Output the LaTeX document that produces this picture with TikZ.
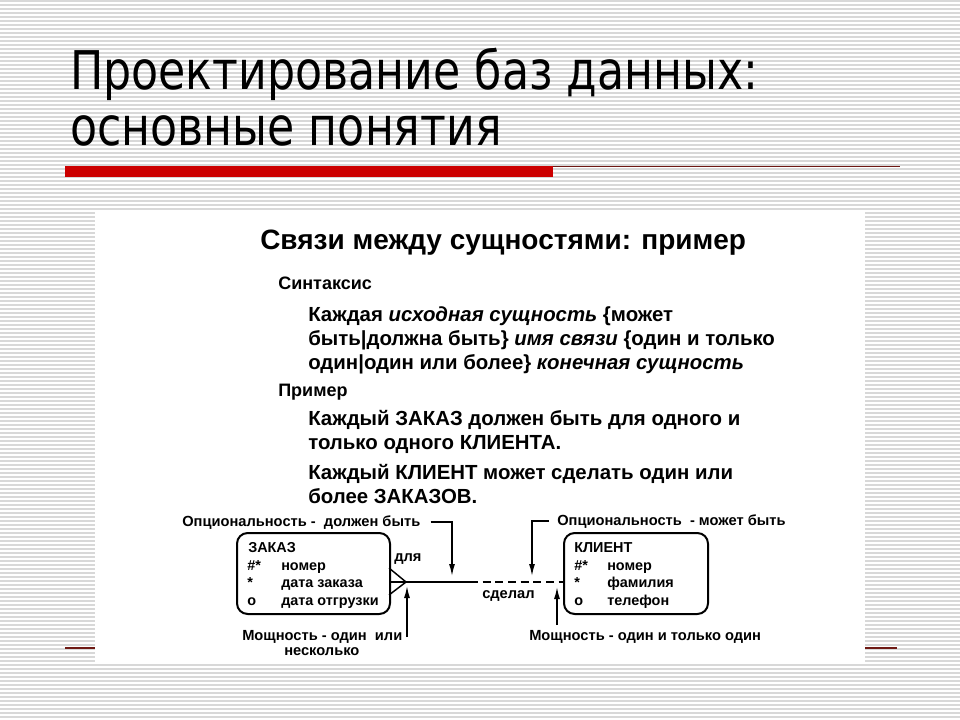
\documentclass[tikz,border=0pt]{standalone}
\usepackage{fontspec}
\setmainfont{Liberation Sans}
\newfontfamily\titlefont[FakeStretch=0.83]{DejaVu Sans}
\usetikzlibrary{arrows.meta}
\definecolor{stripe}{RGB}{216,216,216}
\definecolor{barred}{RGB}{204,0,0}
\definecolor{thinred}{RGB}{110,25,20}
\tikzset{
  box/.style={draw,line width=1.5pt,rounded corners=8pt,anchor=north west,inner sep=0pt},
  lbl/.style={font=\bfseries\fontsize{11}{13}\selectfont,inner sep=0pt,anchor=base west},
  fld/.style={font=\bfseries\fontsize{10.8}{12}\selectfont,inner sep=0pt,anchor=base west},
  txt/.style={font=\bfseries\fontsize{15.3}{18}\selectfont,inner sep=0pt,anchor=base west},
  hdr/.style={font=\bfseries\fontsize{13.5}{16}\selectfont,inner sep=0pt,anchor=base west},
  rel/.style={line width=1.1pt},
  arr/.style={line width=1.1pt,-{Latex[length=9pt,width=4.5pt]}},
}
\begin{document}
\begin{tikzpicture}[x=0.75pt,y=-0.75pt]
	\useasboundingbox (0,0) rectangle (960,720);
	% striped slide background
	\fill [white] (0,0) rectangle (960,720);
	\foreach \y in {1,5,...,717}
		\draw [stripe,line width=0.8pt] (0,\y) -- (960,\y);
	% slide title
	\node [anchor=base west,inner sep=0pt,font=\titlefont\fontsize{40}{48}\selectfont] (ttl1) at (70,90) {Проектирование баз данных:};
	\node [anchor=base west,inner sep=0pt,font=\titlefont\fontsize{40}{48}\selectfont] (ttl2) at (70,146) {основные понятия};
	\fill [barred] (65,166) rectangle (553,177);
	\draw [thinred,line width=1.1pt] (553,166.5) -- (900,166.5);
	\draw [thinred,line width=1.1pt] (65,648) -- (897,648);
	% picture
	\fill [white] (95,212) rectangle (865,662);
	\node [font=\bfseries\fontsize{21}{25}\selectfont,inner sep=0pt,anchor=base west] (head) at (260,250) {Связи между сущностями: пример};
	\node [hdr] (syn) at (278,290) {Синтаксис};
	\node [txt] (syn1) at (308,321) {Каждая \textit{исходная сущность} \{может};
	\node [txt] (syn2) at (308,345) {быть|должна быть\} \textit{имя связи} \{один и только};
	\node [txt] (syn3) at (308,369) {один|один или более\} \textit{конечная сущность}};
	\node [hdr] (ex) at (278,396) {Пример};
	\node [txt] (ex1) at (308,425) {Каждый ЗАКАЗ должен быть для одного и};
	\node [txt] (ex2) at (308,449) {только одного КЛИЕНТА.};
	\node [txt] (ex3) at (308,479) {Каждый КЛИЕНТ может сделать один или};
	\node [txt] (ex4) at (308,503) {более ЗАКАЗОВ.};
	% entities
	\node [box,minimum width=114.75pt,minimum height=60.75pt] (zakaz) at (236,532) {};
	\node [fld] (zname) at (248,552) {ЗАКАЗ};
	\node [fld] (zk1) at (247,570) {\#*};
	\node [fld] (zv1) at (281,570) {номер};
	\node [fld] (zk2) at (247,587) {*};
	\node [fld] (zv2) at (281,587) {дата заказа};
	\node [fld] (zk3) at (247,605) {о};
	\node [fld] (zv3) at (281,605) {дата отгрузки};
	\node [box,minimum width=108pt,minimum height=60.75pt] (klient) at (563,532) {};
	\node [fld] (kname) at (574,552) {КЛИЕНТ};
	\node [fld] (kk1) at (574,570) {\#*};
	\node [fld] (kv1) at (607,570) {номер};
	\node [fld] (kk2) at (574,587) {*};
	\node [fld] (kv2) at (607,587) {фамилия};
	\node [fld] (kk3) at (574,605) {о};
	\node [fld] (kv3) at (607,605) {телефон};
	% relationship
	\coordinate (cf) at (406,582);
	\coordinate (cfu) at (389,568);
	\coordinate (cfl) at (389,595);
	\coordinate (mid) at (470,582);
	\draw [rel] (zakaz.east |- cf) -- (mid);
	\draw [rel,dash pattern=on 6pt off 3.5pt] (mid) -- (klient.west |- cf);
	\draw [rel] (cfu) -- (cf) -- (cfl);
	\node [lbl] (dla) at (394,561) {для};
	\node [lbl] (sdelal) at (482,598) {сделал};
	% notes
	\node [lbl] (optA) at (182,526) {Опциональность -\ \ должен быть};
	\node [lbl] (optB) at (557,525) {Опциональность\ \ - может быть};
	\node [lbl] (powA) at (242,640) {Мощность - один\ \ или};
	\node [lbl] (powA2) at (284,655) {несколько};
	\node [lbl] (powB) at (529,640) {Мощность - один и только один};
	\coordinate (tA) at (452,576);
	\coordinate (tB) at (532,576);
	\coordinate (tC) at (407,586);
	\coordinate (sC) at (407,637);
	\coordinate (tD) at (557,587);
	\coordinate (sD) at (557,625);
	\draw [arr] (optA.east) ++(10,0) -| (tA);
	\draw [arr] (optB.west) ++(-8,0) -| (tB);
	\draw [arr] (sC) -- (tC);
	\draw [arr] (sD) -- (tD);
\end{tikzpicture}
\end{document}
